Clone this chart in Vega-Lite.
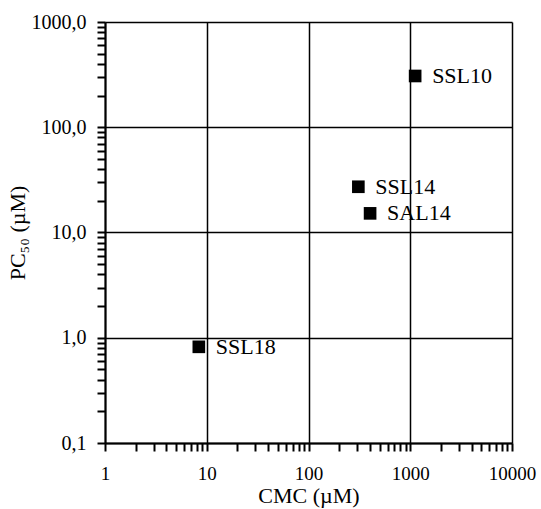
{
  "$schema": "https://vega.github.io/schema/vega-lite/v6.json",
  "autosize": "none",
  "width": 407,
  "height": 421,
  "padding": {"left": 105, "top": 22, "right": 29, "bottom": 66},
  "background": "white",
  "config": {
    "view": {"stroke": null},
    "font": "Liberation Serif",
    "axis": {
      "labelFont": "Liberation Serif",
      "titleFont": "Liberation Serif",
      "labelFontSize": 20,
      "titleFontSize": 22,
      "labelColor": "black",
      "titleColor": "black",
      "titleFontWeight": "normal",
      "domainColor": "black",
      "domainWidth": 2,
      "tickColor": "black",
      "tickWidth": 2,
      "tickSize": 8,
      "gridColor": "black",
      "gridWidth": 1.5,
      "labelOverlap": false,
      "labelFlush": false,
      "labelBound": false
    }
  },
  "data": {
    "values": [
      {"name": "SSL10", "cmc": 1117, "pc50": 307},
      {"name": "SSL14", "cmc": 309, "pc50": 27.2},
      {"name": "SAL14", "cmc": 403, "pc50": 15.2},
      {"name": "SSL18", "cmc": 8.36, "pc50": 0.82}
    ]
  },
  "encoding": {
    "x": {
      "field": "cmc",
      "type": "quantitative",
      "scale": {"type": "log", "domain": [1, 10000], "nice": false},
      "axis": {
        "title": "CMC (µM)",
        "titlePadding": 2,
        "labelPadding": 13,
        "labelFontSize": 19,
        "values": [1,2,3,4,5,6,7,8,9,10,20,30,40,50,60,70,80,90,100,200,300,400,500,600,700,800,900,1000,2000,3000,4000,5000,6000,7000,8000,9000,10000],
        "labelExpr": "abs(log(datum.value)/LN10 - round(log(datum.value)/LN10)) < 1e-6 ? format(datum.value, 'd') : ''",
        "grid": true,
        "gridOpacity": {"condition": {"test": "abs(log(datum.value)/LN10 - round(log(datum.value)/LN10)) < 1e-6", "value": 1}, "value": 0}
      }
    },
    "y": {
      "field": "pc50",
      "type": "quantitative",
      "scale": {"type": "log", "domain": [0.1, 1000], "nice": false},
      "axis": {
        "title": "PC₅₀ (µM)",
        "titlePadding": 2,
        "labelPadding": 11,
        "values": [0.1,0.2,0.3,0.4,0.5,0.6,0.7,0.8,0.9,1,2,3,4,5,6,7,8,9,10,20,30,40,50,60,70,80,90,100,200,300,400,500,600,700,800,900,1000],
        "labelExpr": "abs(log(datum.value)/LN10 - round(log(datum.value)/LN10)) < 1e-6 ? replace(format(datum.value, '.1f'), '.', ',') : ''",
        "grid": true,
        "gridOpacity": {"condition": {"test": "abs(log(datum.value)/LN10 - round(log(datum.value)/LN10)) < 1e-6", "value": 1}, "value": 0}
      }
    }
  },
  "layer": [
    {
      "mark": {"type": "point", "shape": "square", "filled": true, "color": "black", "size": 160, "opacity": 1}
    },
    {
      "mark": {"type": "text", "align": "left", "baseline": "middle", "dx": 17, "fontSize": 22, "font": "Liberation Serif", "color": "black"},
      "encoding": {"text": {"field": "name"}}
    }
  ]
}
